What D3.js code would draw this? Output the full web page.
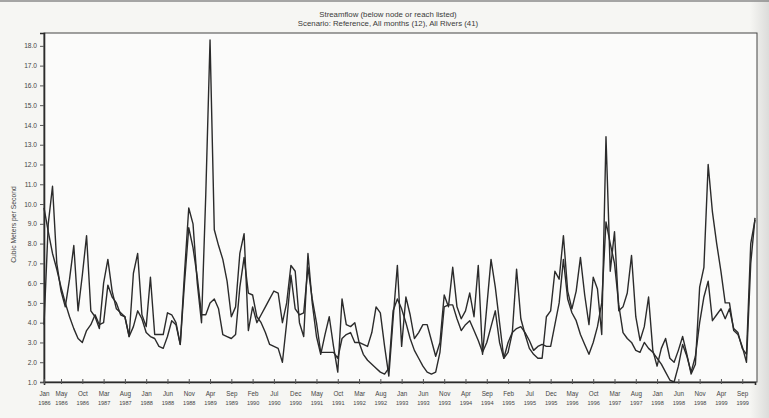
<!DOCTYPE html>
<html>
<head>
<meta charset="utf-8">
<script src="https://cdn.jsdelivr.net/npm/d3@7"></script>
<style>
  html, body { margin: 0; padding: 0; background: #f6f6f3; }
  svg { display: block; }
</style>
</head>
<body>
<svg id="chart" width="769" height="418"></svg>
<script>
// Monthly categories, Jan 1986 .. Dec 1999
const monthNames = ["Jan","Feb","Mar","Apr","May","Jun","Jul","Aug","Sep","Oct","Nov","Dec"];
const years = [1986,1987,1988,1989,1990,1991,1992,1993,1994,1995,1996,1997,1998,1999];
const months = years.flatMap(y => monthNames.map(m => `${m} ${y}`));

// Streamflow, cubic meters per second (two nodes)
const flowA = [
  3.9, 9.0,10.9, 7.0, 5.6, 4.8, 6.2, 7.9, 4.6, 6.4, 8.4, 4.6,
  4.3, 3.7, 6.0, 7.2, 5.6, 4.7, 4.5, 4.3, 3.3, 6.5, 7.5, 4.4,
  3.8, 6.3, 3.4, 3.4, 3.4, 4.5, 4.4, 4.0, 2.9, 6.5, 9.8, 9.0,
  6.0, 4.0,10.5,18.3, 8.7, 7.9, 7.2, 6.1, 4.3, 4.8, 7.5, 8.5,
  3.6, 4.8, 4.0, 4.4, 4.8, 5.2, 5.6, 5.5, 4.0, 5.0, 6.9, 6.6,
  4.0, 3.3, 7.5, 5.0, 3.3, 2.4, 3.4, 4.3, 2.8, 1.5, 5.2, 3.9,
  3.8, 4.0, 3.0, 2.9, 2.8, 3.5, 4.8, 4.5, 2.8, 1.3, 4.2, 6.9,
  2.8, 5.3, 4.4, 3.2, 3.5, 3.9, 3.9, 3.1, 2.3, 3.0, 5.4, 4.8,
  6.8, 4.8, 4.2, 4.6, 5.5, 4.3, 6.9, 2.4, 4.8, 7.2, 5.8, 4.0,
  2.2, 2.5, 3.5, 6.7, 4.2, 3.4, 2.7, 2.4, 2.2, 2.2, 4.3, 4.6,
  6.6, 6.2, 8.4, 5.6, 4.7, 5.6, 7.3, 5.4, 3.9, 6.3, 5.7, 3.4,
 13.4, 6.6, 8.6, 4.6, 4.8, 5.5, 7.4, 4.3, 3.1, 3.8, 5.3, 2.6,
  1.8, 2.7, 3.2, 2.2, 2.0, 2.6, 3.3, 2.4, 1.4, 1.9, 5.8, 6.8,
 12.0, 9.6, 8.0, 6.6, 5.0, 5.0, 3.6, 3.4, 2.8, 2.0, 7.0, 9.3
];
const flowB = [
  9.8, 8.6, 7.5, 6.7, 5.8, 5.0, 4.3, 3.7, 3.2, 3.0, 3.6, 3.9,
  4.4, 3.9, 4.0, 5.9, 5.3, 5.0, 4.4, 4.3, 3.3, 3.8, 4.6, 4.2,
  3.5, 3.3, 3.2, 2.8, 2.7, 3.3, 4.1, 3.9, 2.9, 6.0, 8.8, 7.8,
  6.3, 4.4, 4.4, 5.0, 5.2, 4.7, 3.4, 3.3, 3.2, 3.4, 5.8, 7.3,
  5.5, 5.4, 4.3, 4.0, 3.5, 2.9, 2.8, 2.7, 2.0, 4.0, 6.4, 4.7,
  4.4, 4.5, 6.8, 5.2, 4.0, 2.5, 2.5, 2.5, 2.5, 2.2, 3.2, 3.4,
  3.5, 3.0, 3.0, 2.4, 2.1, 1.9, 1.7, 1.5, 1.4, 1.7, 4.6, 5.2,
  4.7, 4.0, 3.2, 2.6, 2.2, 1.8, 1.5, 1.4, 1.5, 2.5, 4.8, 4.9,
  4.9, 4.2, 3.6, 3.9, 4.1, 3.6, 3.1, 2.5, 3.0, 3.8, 4.6, 3.0,
  2.2, 3.0, 3.5, 3.7, 3.8, 3.5, 3.1, 2.6, 2.8, 2.9, 2.8, 2.8,
  3.9, 5.0, 7.2, 5.2, 4.5, 4.1, 3.4, 2.9, 2.4, 3.0, 3.8, 5.0,
  9.1, 8.0, 7.0, 4.9, 3.5, 3.2, 3.0, 2.6, 2.5, 3.0, 2.7, 2.5,
  2.2, 1.9, 1.5, 1.1, 1.0, 1.8, 2.9, 2.3, 1.5, 2.3, 4.0, 5.3,
  6.1, 4.1, 4.4, 4.7, 4.2, 4.7, 3.7, 3.5, 2.7, 2.4, 8.0, 9.2
];

// Axis labels
const xTickLabels = [
  "Jan 1986","May 1986","Oct 1986","Mar 1987","Aug 1987","Jan 1988","Jun 1988",
  "Nov 1988","Apr 1989","Sep 1989","Feb 1990","Jul 1990","Dec 1990","May 1991",
  "Oct 1991","Mar 1992","Aug 1992","Jan 1993","Jun 1993","Nov 1993","Apr 1994",
  "Sep 1994","Feb 1995","Jul 1995","Dec 1995","May 1996","Oct 1996","Mar 1997",
  "Aug 1997","Jan 1998","Jun 1998","Nov 1998","Apr 1999","Sep 1999"
];
const yTickValues = [1,2,3,4,5,6,7,8,9,10,11,12,13,14,15,16,17,18];

const titleLines = [
  "Streamflow (below node or reach listed)",
  "Scenario: Reference,  All months (12),  All Rivers (41)"
];
const yTitle = "Cubic Meters per Second";

// ---- layout ----
const W = 769, H = 418;
const plot = { left: 44, right: 757, top: 33, bottom: 382 };
const svg = d3.select("#chart");
const font = "'Liberation Sans', Arial, sans-serif";
const ink = "#2b2b2b";

// faint page shading toward the right edge
const defs = svg.append("defs");
const grad = defs.append("linearGradient").attr("id", "edge").attr("x1", 0).attr("x2", 1);
grad.append("stop").attr("offset", 0).attr("stop-color", "#f6f6f3");
grad.append("stop").attr("offset", 1).attr("stop-color", "#dcdcda");
svg.append("rect").attr("x", 0).attr("y", 0).attr("width", W).attr("height", H).attr("fill", "#f6f6f3");
svg.append("rect").attr("x", 750).attr("y", 0).attr("width", 19).attr("height", H).attr("fill", "url(#edge)");
svg.append("line").attr("x1", 0).attr("x2", W).attr("y1", 1).attr("y2", 1)
  .attr("stroke", "#8a8a8a").attr("stroke-width", 1.5);

const x = d3.scalePoint().domain(months).range([plot.left, 755]);
const y = d3.scaleLinear().domain([1, 18.65]).range([plot.bottom, plot.top]);

// title
svg.append("g").selectAll("text").data(titleLines).join("text")
  .attr("x", 388).attr("y", (d, i) => 17 + i * 9)
  .attr("text-anchor", "middle")
  .attr("font-family", font).attr("font-size", 7.8)
  .attr("fill", "#3a3a3a")
  .text(d => d);

// plot frame
svg.append("rect")
  .attr("x", plot.left).attr("y", plot.top)
  .attr("width", plot.right - plot.left).attr("height", plot.bottom - plot.top)
  .attr("fill", "#fbfbfa").attr("stroke", "#444").attr("stroke-width", 1);

// y axis
const yAxis = svg.append("g")
  .attr("transform", `translate(${plot.left},0)`)
  .call(d3.axisLeft(y).tickValues(yTickValues).tickSize(4).tickPadding(3)
        .tickFormat(d => d.toFixed(1)));
yAxis.select(".domain").attr("stroke", ink).attr("stroke-width", 1.6);
yAxis.selectAll(".tick line").attr("stroke", "#555");
yAxis.selectAll("text").attr("font-family", font).attr("font-size", 6.6).attr("fill", "#444");

svg.append("text")
  .attr("transform", `translate(16,${(plot.top + plot.bottom) / 2 + 17}) rotate(-90)`)
  .attr("text-anchor", "middle")
  .attr("font-family", font).attr("font-size", 6.8).attr("fill", "#444")
  .text(yTitle);

// x axis with two-line month / year labels
const xAxis = svg.append("g")
  .attr("transform", `translate(0,${plot.bottom})`)
  .call(d3.axisBottom(x).tickValues(xTickLabels).tickSize(3).tickPadding(5).tickFormat(""));
xAxis.select(".domain").attr("stroke", ink).attr("stroke-width", 1.6);
xAxis.selectAll(".tick line").attr("y1", -3).attr("y2", 2).attr("stroke", "#555");
xAxis.selectAll(".tick text").each(function(d) {
  const [m, yr] = d.split(" ");
  const t = d3.select(this)
    .attr("font-family", font).attr("font-size", 6.3).attr("fill", "#444")
    .attr("y", 10);
  t.append("tspan").attr("x", 0).attr("dy", "0.71em").text(m);
  t.append("tspan").attr("x", 0).attr("dy", "1.6em").attr("font-size", 5.6).text(yr);
});

// series lines
const line = d3.line().x((d, i) => x(months[i])).y(d => y(d));
[flowB, flowA].forEach(series => {
  svg.append("path")
    .datum(series)
    .attr("fill", "none")
    .attr("stroke", ink)
    .attr("stroke-width", 1.4)
    .attr("stroke-linejoin", "round")
    .attr("d", line);
});
</script>
</body>
</html>
